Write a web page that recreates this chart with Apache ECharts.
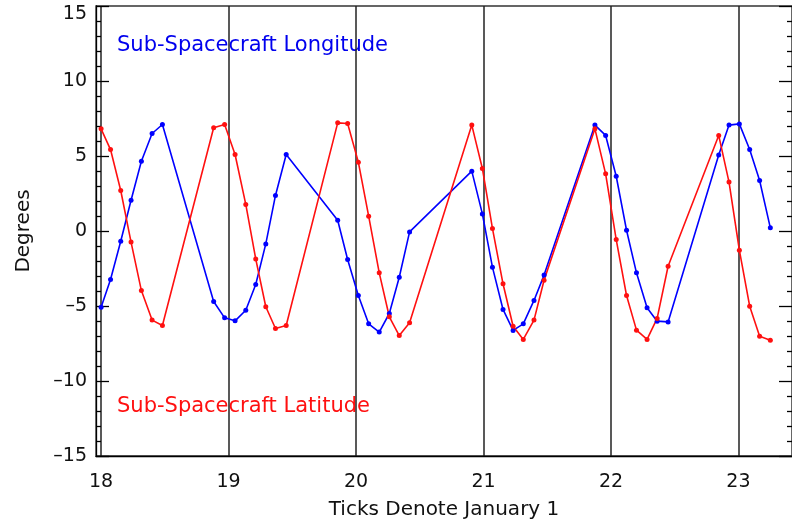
<!DOCTYPE html>
<html><head><meta charset="utf-8">
<script src="https://cdn.jsdelivr.net/npm/echarts@6/dist/echarts.min.js"></script>
<style>html,body{margin:0;padding:0;background:#fff}#c{width:792px;height:526px}</style>
</head><body><div id="c"></div>
<script>
// Time in years (18 = Jan 1 of year 18); monthly samples with gaps
const times = [18.000,18.074,18.154,18.235,18.316,18.400,18.481,
  18.883,18.969,19.051,19.135,19.213,19.292,19.368,19.452,
  19.856,19.934,20.018,20.099,20.182,20.261,20.339,20.420,
  20.908,20.991,21.070,21.153,21.232,21.312,21.396,21.475,
  21.874,21.958,22.041,22.122,22.200,22.283,22.362,22.448,
  22.845,22.926,23.007,23.088,23.166,23.250];
const longitude = [-5.08,-3.23,-0.68,2.05,4.65,6.50,7.10,
  -4.70,-5.79,-5.99,-5.28,-3.57,-0.86,2.37,5.10,
  0.72,-1.90,-4.30,-6.19,-6.74,-5.50,-3.08,-0.06,
  3.99,1.14,-2.41,-5.23,-6.63,-6.19,-4.63,-2.94,
  7.06,6.37,3.65,0.05,-2.79,-5.12,-6.01,-6.06,
  5.06,7.06,7.14,5.43,3.37,0.21];
const latitude = [6.81,5.43,2.70,-0.74,-3.97,-5.94,-6.30,
  6.88,7.10,5.10,1.77,-1.86,-5.05,-6.50,-6.30,
  7.21,7.17,4.59,0.99,-2.79,-5.72,-6.97,-6.12,
  7.06,4.17,0.17,-3.52,-6.35,-7.23,-5.94,-3.28,
  6.81,3.81,-0.57,-4.30,-6.61,-7.23,-5.83,-2.35,
  6.37,3.26,-1.28,-5.01,-7.01,-7.28];
const yearTicks = [18,19,20,21,22,23];
const seriesNames = ['Sub-Spacecraft Longitude','Sub-Spacecraft Latitude'];
const xTitle = 'Ticks Denote January 1';
const yTitle = 'Degrees';

const FONT = 'DejaVu Sans';
const lonData = times.map((t,i)=>[t, longitude[i]]);
const latData = times.map((t,i)=>[t, latitude[i]]);

const chart = echarts.init(document.getElementById('c'), null, {renderer:'canvas'});
const yAxisBase = {
  type:'value', min:-15, max:15, interval:5,
  axisLine:{show:true, lineStyle:{color:'#000', width:1.3}},
  axisTick:{show:true, inside:true, length:13, lineStyle:{color:'#000', width:1.3}},
  minorTick:{show:true, splitNumber:5, length:5, lineStyle:{color:'#000', width:1.3}},
  splitLine:{show:false}
};
const labelStyle = {color:'#111', fontSize:19, fontFamily:FONT};
chart.setOption({
  animation:false,
  backgroundColor:'#fff',
  grid:{left:96, right:-2, top:6, bottom:70, show:true, borderColor:'#333', borderWidth:1.3, backgroundColor:'transparent'},
  xAxis:{
    type:'value', min:17.96, max:23.42,
    axisLine:{show:true, onZero:false, lineStyle:{color:'#000', width:1.3}},
    axisTick:{show:false, customValues:yearTicks},
    axisLabel:Object.assign({customValues:yearTicks, margin:17}, labelStyle),
    splitLine:{show:true, lineStyle:{color:'#222', width:1.5}},
    name:xTitle, nameLocation:'middle', nameGap:44,
    nameTextStyle:{color:'#111', fontSize:20, fontFamily:FONT}
  },
  yAxis:[
    Object.assign({}, yAxisBase, {
      position:'left',
      axisLabel:Object.assign({show:true, margin:9,
        formatter:function(v){
          const s = String(v).replace('-', '\u2013');
          return v === 15 ? '{t|' + s + '}' : s;
        },
        rich:{t:Object.assign({padding:[16,0,0,0]}, labelStyle)}
      }, labelStyle),
      name:yTitle, nameLocation:'middle', nameGap:62,
      nameTextStyle:{color:'#111', fontSize:20, fontFamily:FONT}
    }),
    Object.assign({}, yAxisBase, {
      position:'right',
      axisLabel:{show:false}
    })
  ],
  series:[
    {name:seriesNames[0], type:'line', data:lonData, yAxisIndex:0,
     symbol:'circle', symbolSize:5, color:'#0000ff',
     lineStyle:{color:'#0000ff', width:1.6}, itemStyle:{color:'#0000ff'}},
    {name:seriesNames[1], type:'line', data:latData, yAxisIndex:0,
     symbol:'circle', symbolSize:5, color:'#ff0000',
     lineStyle:{color:'#ff1010', width:1.6}, itemStyle:{color:'#ff1010'}}
  ],
  graphic:[
    {type:'text', left:117, top:35, style:{text:seriesNames[0], fill:'#0000ee', font:'21px "DejaVu Sans"'}},
    {type:'text', left:117, top:396, style:{text:seriesNames[1], fill:'#ff1010', font:'21px "DejaVu Sans"'}}
  ]
});
</script>
</body></html>
